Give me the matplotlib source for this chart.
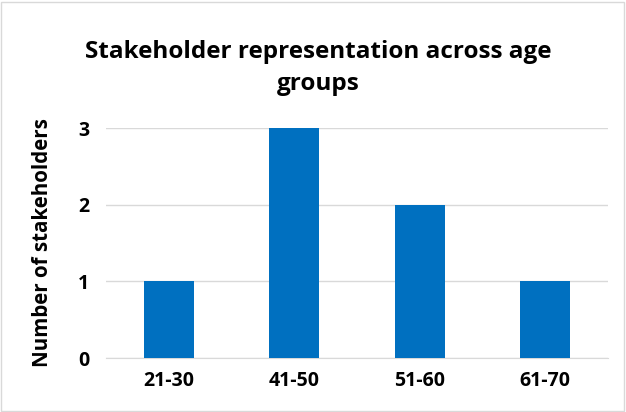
import matplotlib
matplotlib.use("Agg")
import matplotlib.pyplot as plt
from matplotlib.patches import Rectangle

categories = ["21-30", "41-50", "51-60", "61-70"]
values = [1, 3, 2, 1]
yticks = [0, 1, 2, 3]
title = "Stakeholder representation across age\ngroups"
ylabel = "Number of stakeholders"

plt.rcParams['font.family'] = ['Open Sans', 'DejaVu Sans']

W, H = 626, 412
fig = plt.figure(figsize=(W/100, H/100), dpi=100)
ax = fig.add_axes([106/W, 1-358/H, (608-106)/W, (358-128)/H])

x = list(range(len(categories)))
ax.bar(x, values, width=0.4, color="#0070C0", zorder=3)
ax.set_xlim(-0.5, len(categories)-0.5)
ax.set_ylim(0, 3)
ax.set_yticks(yticks)
ax.set_xticks(x)
ax.set_xticklabels(categories, fontsize=14, fontweight="bold")
ax.set_yticklabels([str(t) for t in yticks], fontsize=14, fontweight="bold")
ax.yaxis.grid(True, color="#D9D9D9", linewidth=1, zorder=0)
for s in ["top", "right", "left"]:
    ax.spines[s].set_visible(False)
ax.spines["bottom"].set_color("#D9D9D9")
ax.tick_params(axis="x", length=0, pad=9)
ax.tick_params(axis="y", length=0, pad=12)
ax.set_ylabel(ylabel, fontsize=14.8, fontweight="bold", labelpad=18)

fig.text(318/W, 1-68/H, title, ha="center", va="center", fontsize=17.5,
         fontweight="bold", linespacing=1.5)

fig.patches.append(Rectangle((1/W, 1/H), (W-3)/W, (H-3)/H, transform=fig.transFigure,
                             fill=False, edgecolor="#D9D9D9", linewidth=1))

fig.savefig("out.png", dpi=100)
